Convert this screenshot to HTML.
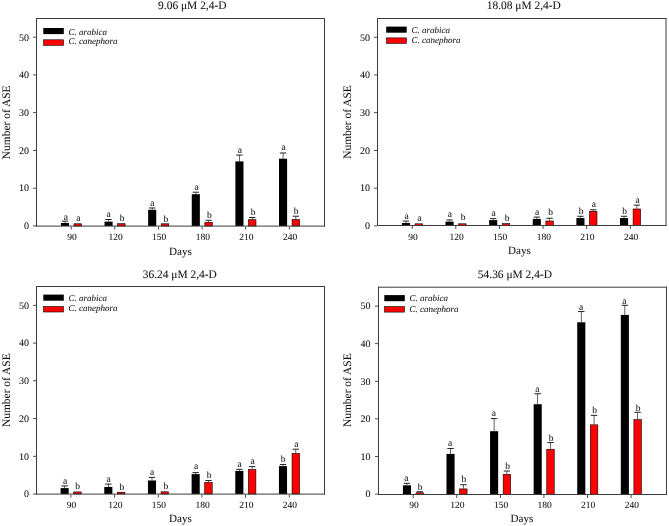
<!DOCTYPE html>
<html><head><meta charset="utf-8"><title>ASE</title>
<style>
html,body{margin:0;padding:0;background:#fff;}
body{width:669px;height:526px;overflow:hidden;}
svg{display:block;will-change:transform;}
text{font-family:"Liberation Serif",serif;fill:#111111;text-rendering:geometricPrecision;stroke:#111111;stroke-width:0.06px;}
.t{font-size:11.45px;}
.d{font-size:11.1px;}
.n{font-size:9.5px;}
.yl{font-size:10px;}
.l{font-size:9.5px;}
.i{font-size:9px;font-style:italic;}
</style></head>
<body>
<svg width="669" height="526" viewBox="0 0 669 526">
<rect width="669" height="526" fill="#fff"/>
<text class="t" x="192.3" y="9.3" text-anchor="middle">9.06 μM 2,4-D</text>
<rect x="33" y="225.5" width="3" height="0.8" fill="#222222"/>
<text class="n yl" x="29" y="229.2" text-anchor="end">0</text>
<rect x="33" y="187.76" width="3" height="0.8" fill="#222222"/>
<text class="n yl" x="29" y="191.46" text-anchor="end">10</text>
<rect x="33" y="150.02" width="3" height="0.8" fill="#222222"/>
<text class="n yl" x="29" y="153.72" text-anchor="end">20</text>
<rect x="33" y="112.28" width="3" height="0.8" fill="#222222"/>
<text class="n yl" x="29" y="115.98" text-anchor="end">30</text>
<rect x="33" y="74.54" width="3" height="0.8" fill="#222222"/>
<text class="n yl" x="29" y="78.24" text-anchor="end">40</text>
<rect x="33" y="36.8" width="3" height="0.8" fill="#222222"/>
<text class="n yl" x="29" y="40.5" text-anchor="end">50</text>
<rect x="70.8" y="226.6" width="0.8" height="3" fill="#222222"/>
<text class="n" x="71.9" y="239.8" text-anchor="middle">90</text>
<rect x="114.42" y="226.6" width="0.8" height="3" fill="#222222"/>
<text class="n" x="115.52" y="239.8" text-anchor="middle">120</text>
<rect x="158.04" y="226.6" width="0.8" height="3" fill="#222222"/>
<text class="n" x="159.14" y="239.8" text-anchor="middle">150</text>
<rect x="201.66" y="226.6" width="0.8" height="3" fill="#222222"/>
<text class="n" x="202.76" y="239.8" text-anchor="middle">180</text>
<rect x="245.28" y="226.6" width="0.8" height="3" fill="#222222"/>
<text class="n" x="246.38" y="239.8" text-anchor="middle">210</text>
<rect x="288.9" y="226.6" width="0.8" height="3" fill="#222222"/>
<text class="n" x="290" y="239.8" text-anchor="middle">240</text>
<text class="d" x="180.5" y="254.7" text-anchor="middle">Days</text>
<text class="t" transform="translate(10,122.3) rotate(-90)" text-anchor="middle">Number of ASE</text>
<rect x="60.9" y="222.99" width="8.1" height="3.01" fill="#000"/>
<rect x="64.6" y="221.18" width="0.7" height="1.81" fill="#222"/>
<rect x="61.75" y="220.68" width="6.4" height="1" fill="#222"/>
<text class="l" x="65.8" y="219.7" text-anchor="middle">a</text>
<rect x="74" y="223.78" width="7.5" height="2.22" fill="#ff0000" stroke="#000" stroke-width="0.6"/>
<text class="l" x="78.4" y="220.9" text-anchor="middle">a</text>
<rect x="104.52" y="221.6" width="8.1" height="4.4" fill="#000"/>
<rect x="108.22" y="219.48" width="0.7" height="2.11" fill="#222"/>
<rect x="105.37" y="218.98" width="6.4" height="1" fill="#222"/>
<text class="l" x="108.7" y="217.3" text-anchor="middle">a</text>
<rect x="117.62" y="223.71" width="7.5" height="2.29" fill="#ff0000" stroke="#000" stroke-width="0.6"/>
<text class="l" x="122" y="220.6" text-anchor="middle">b</text>
<rect x="148.14" y="209.79" width="8.1" height="16.21" fill="#000"/>
<rect x="151.84" y="207.97" width="0.7" height="1.81" fill="#222"/>
<rect x="148.99" y="207.47" width="6.4" height="1" fill="#222"/>
<text class="l" x="152.4" y="205.6" text-anchor="middle">a</text>
<rect x="161.24" y="223.78" width="7.5" height="2.22" fill="#ff0000" stroke="#000" stroke-width="0.6"/>
<text class="l" x="165.9" y="221.5" text-anchor="middle">b</text>
<rect x="191.76" y="194.2" width="8.1" height="31.8" fill="#000"/>
<rect x="195.46" y="192.2" width="0.7" height="2" fill="#222"/>
<rect x="192.61" y="191.7" width="6.4" height="1" fill="#222"/>
<text class="l" x="196.6" y="189.6" text-anchor="middle">a</text>
<rect x="204.86" y="222.31" width="7.5" height="3.69" fill="#ff0000" stroke="#000" stroke-width="0.6"/>
<rect x="208.26" y="220.31" width="0.7" height="1.7" fill="#222"/>
<rect x="205.41" y="219.81" width="6.4" height="1" fill="#222"/>
<text class="l" x="209.3" y="218.2" text-anchor="middle">b</text>
<rect x="235.38" y="161.4" width="8.1" height="64.6" fill="#000"/>
<rect x="239.08" y="155.1" width="0.7" height="6.3" fill="#222"/>
<rect x="236.23" y="154.6" width="6.4" height="1" fill="#222"/>
<text class="l" x="239.9" y="152.5" text-anchor="middle">a</text>
<rect x="248.48" y="219.71" width="7.5" height="6.29" fill="#ff0000" stroke="#000" stroke-width="0.6"/>
<rect x="251.88" y="217.52" width="0.7" height="1.89" fill="#222"/>
<rect x="249.03" y="217.02" width="6.4" height="1" fill="#222"/>
<text class="l" x="253.2" y="214.6" text-anchor="middle">b</text>
<rect x="279" y="158.69" width="8.1" height="67.31" fill="#000"/>
<rect x="282.7" y="152.99" width="0.7" height="5.7" fill="#222"/>
<rect x="279.85" y="152.49" width="6.4" height="1" fill="#222"/>
<text class="l" x="283.7" y="150.4" text-anchor="middle">a</text>
<rect x="292.1" y="219.41" width="7.5" height="6.59" fill="#ff0000" stroke="#000" stroke-width="0.6"/>
<rect x="295.5" y="216.2" width="0.7" height="2.91" fill="#222"/>
<rect x="292.65" y="215.7" width="6.4" height="1" fill="#222"/>
<text class="l" x="296.2" y="213.6" text-anchor="middle">b</text>
<rect x="43.3" y="28" width="20.5" height="6.1" fill="#000"/>
<rect x="43.6" y="39.8" width="19.9" height="5.5" fill="#ff0000" stroke="#000" stroke-width="0.6"/>
<text class="i" x="68.6" y="34.5">C. arabica</text>
<text class="i" x="68.6" y="44.4">C. canephora</text>
<rect x="36" y="18" width="289" height="1" fill="#3c3c3c"/>
<rect x="36" y="225.6" width="289" height="1" fill="#3c3c3c"/>
<rect x="36" y="18" width="1" height="208.6" fill="#3c3c3c"/>
<rect x="324" y="18" width="1" height="208.6" fill="#3c3c3c"/>
<text class="t" x="523.8" y="9.3" text-anchor="middle">18.08 μM 2,4-D</text>
<rect x="374" y="225.5" width="3" height="0.8" fill="#222222"/>
<text class="n yl" x="370" y="229.2" text-anchor="end">0</text>
<rect x="374" y="187.76" width="3" height="0.8" fill="#222222"/>
<text class="n yl" x="370" y="191.46" text-anchor="end">10</text>
<rect x="374" y="150.02" width="3" height="0.8" fill="#222222"/>
<text class="n yl" x="370" y="153.72" text-anchor="end">20</text>
<rect x="374" y="112.28" width="3" height="0.8" fill="#222222"/>
<text class="n yl" x="370" y="115.98" text-anchor="end">30</text>
<rect x="374" y="74.54" width="3" height="0.8" fill="#222222"/>
<text class="n yl" x="370" y="78.24" text-anchor="end">40</text>
<rect x="374" y="36.8" width="3" height="0.8" fill="#222222"/>
<text class="n yl" x="370" y="40.5" text-anchor="end">50</text>
<rect x="411.8" y="226" width="0.8" height="3" fill="#222222"/>
<text class="n" x="412.9" y="239.8" text-anchor="middle">90</text>
<rect x="455.42" y="226" width="0.8" height="3" fill="#222222"/>
<text class="n" x="456.52" y="239.8" text-anchor="middle">120</text>
<rect x="499.04" y="226" width="0.8" height="3" fill="#222222"/>
<text class="n" x="500.14" y="239.8" text-anchor="middle">150</text>
<rect x="542.66" y="226" width="0.8" height="3" fill="#222222"/>
<text class="n" x="543.76" y="239.8" text-anchor="middle">180</text>
<rect x="586.28" y="226" width="0.8" height="3" fill="#222222"/>
<text class="n" x="587.38" y="239.8" text-anchor="middle">210</text>
<rect x="629.9" y="226" width="0.8" height="3" fill="#222222"/>
<text class="n" x="631" y="239.8" text-anchor="middle">240</text>
<text class="d" x="519.4" y="253.6" text-anchor="middle">Days</text>
<text class="t" transform="translate(351.2,122) rotate(-90)" text-anchor="middle">Number of ASE</text>
<rect x="401.9" y="222.95" width="8.1" height="2.45" fill="#000"/>
<rect x="405.6" y="221.06" width="0.7" height="1.89" fill="#222"/>
<rect x="402.75" y="220.56" width="6.4" height="1" fill="#222"/>
<text class="l" x="406.6" y="218.5" text-anchor="middle">a</text>
<rect x="415" y="223.81" width="7.5" height="1.59" fill="#ff0000" stroke="#000" stroke-width="0.6"/>
<text class="l" x="419.6" y="220.9" text-anchor="middle">a</text>
<rect x="445.52" y="221.63" width="8.1" height="3.77" fill="#000"/>
<rect x="449.22" y="219.93" width="0.7" height="1.7" fill="#222"/>
<rect x="446.37" y="219.43" width="6.4" height="1" fill="#222"/>
<text class="l" x="449.9" y="217" text-anchor="middle">a</text>
<rect x="458.62" y="223.81" width="7.5" height="1.59" fill="#ff0000" stroke="#000" stroke-width="0.6"/>
<text class="l" x="463" y="220.3" text-anchor="middle">b</text>
<rect x="489.14" y="220.12" width="8.1" height="5.28" fill="#000"/>
<rect x="492.84" y="218.61" width="0.7" height="1.51" fill="#222"/>
<rect x="489.99" y="218.11" width="6.4" height="1" fill="#222"/>
<text class="l" x="493.7" y="215.7" text-anchor="middle">a</text>
<rect x="502.24" y="223.62" width="7.5" height="1.78" fill="#ff0000" stroke="#000" stroke-width="0.6"/>
<text class="l" x="507" y="220.5" text-anchor="middle">b</text>
<rect x="532.76" y="218.91" width="8.1" height="6.49" fill="#000"/>
<rect x="536.46" y="217.1" width="0.7" height="1.81" fill="#222"/>
<rect x="533.61" y="216.6" width="6.4" height="1" fill="#222"/>
<text class="l" x="537" y="214.5" text-anchor="middle">a</text>
<rect x="545.86" y="220.98" width="7.5" height="4.42" fill="#ff0000" stroke="#000" stroke-width="0.6"/>
<rect x="549.26" y="218.27" width="0.7" height="2.42" fill="#222"/>
<rect x="546.41" y="217.77" width="6.4" height="1" fill="#222"/>
<text class="l" x="550.6" y="214.7" text-anchor="middle">b</text>
<rect x="576.38" y="218.08" width="8.1" height="7.32" fill="#000"/>
<rect x="580.08" y="216.27" width="0.7" height="1.81" fill="#222"/>
<rect x="577.23" y="215.77" width="6.4" height="1" fill="#222"/>
<text class="l" x="581.1" y="213.9" text-anchor="middle">b</text>
<rect x="589.48" y="211.28" width="7.5" height="14.12" fill="#ff0000" stroke="#000" stroke-width="0.6"/>
<rect x="592.88" y="209.78" width="0.7" height="1.21" fill="#222"/>
<rect x="590.03" y="209.28" width="6.4" height="1" fill="#222"/>
<text class="l" x="593.9" y="207" text-anchor="middle">a</text>
<rect x="620" y="218.08" width="8.1" height="7.32" fill="#000"/>
<rect x="623.7" y="216.27" width="0.7" height="1.81" fill="#222"/>
<rect x="620.85" y="215.77" width="6.4" height="1" fill="#222"/>
<text class="l" x="624.5" y="213.9" text-anchor="middle">b</text>
<rect x="633.1" y="208.98" width="7.5" height="16.42" fill="#ff0000" stroke="#000" stroke-width="0.6"/>
<rect x="636.5" y="205.1" width="0.7" height="3.59" fill="#222"/>
<rect x="633.65" y="204.6" width="6.4" height="1" fill="#222"/>
<text class="l" x="637.5" y="202.6" text-anchor="middle">a</text>
<rect x="386.2" y="26.6" width="20.5" height="6.1" fill="#000"/>
<rect x="386.5" y="37.9" width="19.9" height="5.5" fill="#ff0000" stroke="#000" stroke-width="0.6"/>
<text class="i" x="411.5" y="32.7">C. arabica</text>
<text class="i" x="411.5" y="42.9">C. canephora</text>
<rect x="377" y="18" width="289.5" height="1" fill="#3c3c3c"/>
<rect x="377" y="225" width="289.5" height="1" fill="#3c3c3c"/>
<rect x="377" y="18" width="1" height="208" fill="#3c3c3c"/>
<rect x="665.5" y="18" width="1" height="208" fill="#3c3c3c"/>
<text class="t" x="179.8" y="278.4" text-anchor="middle">36.24 μM 2,4-D</text>
<rect x="33" y="493.6" width="3" height="0.8" fill="#222222"/>
<text class="n yl" x="29" y="497.3" text-anchor="end">0</text>
<rect x="33" y="455.86" width="3" height="0.8" fill="#222222"/>
<text class="n yl" x="29" y="459.56" text-anchor="end">10</text>
<rect x="33" y="418.12" width="3" height="0.8" fill="#222222"/>
<text class="n yl" x="29" y="421.82" text-anchor="end">20</text>
<rect x="33" y="380.38" width="3" height="0.8" fill="#222222"/>
<text class="n yl" x="29" y="384.08" text-anchor="end">30</text>
<rect x="33" y="342.64" width="3" height="0.8" fill="#222222"/>
<text class="n yl" x="29" y="346.34" text-anchor="end">40</text>
<rect x="33" y="304.9" width="3" height="0.8" fill="#222222"/>
<text class="n yl" x="29" y="308.6" text-anchor="end">50</text>
<rect x="70.5" y="494.6" width="0.8" height="3" fill="#222222"/>
<text class="n" x="71.6" y="507.8" text-anchor="middle">90</text>
<rect x="114.17" y="494.6" width="0.8" height="3" fill="#222222"/>
<text class="n" x="115.27" y="507.8" text-anchor="middle">120</text>
<rect x="157.84" y="494.6" width="0.8" height="3" fill="#222222"/>
<text class="n" x="158.94" y="507.8" text-anchor="middle">150</text>
<rect x="201.51" y="494.6" width="0.8" height="3" fill="#222222"/>
<text class="n" x="202.61" y="507.8" text-anchor="middle">180</text>
<rect x="245.18" y="494.6" width="0.8" height="3" fill="#222222"/>
<text class="n" x="246.28" y="507.8" text-anchor="middle">210</text>
<rect x="288.85" y="494.6" width="0.8" height="3" fill="#222222"/>
<text class="n" x="289.95" y="507.8" text-anchor="middle">240</text>
<text class="d" x="180.5" y="521.8" text-anchor="middle">Days</text>
<text class="t" transform="translate(10,390.2) rotate(-90)" text-anchor="middle">Number of ASE</text>
<rect x="60.6" y="488.11" width="8.1" height="5.89" fill="#000"/>
<rect x="64.3" y="485.92" width="0.7" height="2.19" fill="#222"/>
<rect x="61.45" y="485.42" width="6.4" height="1" fill="#222"/>
<text class="l" x="65" y="483.6" text-anchor="middle">a</text>
<rect x="73.7" y="491.92" width="7.5" height="2.08" fill="#ff0000" stroke="#000" stroke-width="0.6"/>
<text class="l" x="77.6" y="488.9" text-anchor="middle">b</text>
<rect x="104.27" y="486.9" width="8.1" height="7.1" fill="#000"/>
<rect x="107.97" y="484.11" width="0.7" height="2.79" fill="#222"/>
<rect x="105.12" y="483.61" width="6.4" height="1" fill="#222"/>
<text class="l" x="108.7" y="481.8" text-anchor="middle">a</text>
<rect x="117.37" y="492.22" width="7.5" height="1.78" fill="#ff0000" stroke="#000" stroke-width="0.6"/>
<text class="l" x="121.9" y="489.5" text-anchor="middle">b</text>
<rect x="147.94" y="480.49" width="8.1" height="13.51" fill="#000"/>
<rect x="151.64" y="477.39" width="0.7" height="3.09" fill="#222"/>
<rect x="148.79" y="476.89" width="6.4" height="1" fill="#222"/>
<text class="l" x="152.1" y="474.7" text-anchor="middle">a</text>
<rect x="161.04" y="491.81" width="7.5" height="2.19" fill="#ff0000" stroke="#000" stroke-width="0.6"/>
<text class="l" x="165.8" y="489.1" text-anchor="middle">b</text>
<rect x="191.61" y="474.11" width="8.1" height="19.89" fill="#000"/>
<rect x="195.31" y="472.6" width="0.7" height="1.51" fill="#222"/>
<rect x="192.46" y="472.1" width="6.4" height="1" fill="#222"/>
<text class="l" x="196.2" y="469.3" text-anchor="middle">a</text>
<rect x="204.71" y="482.41" width="7.5" height="11.59" fill="#ff0000" stroke="#000" stroke-width="0.6"/>
<rect x="208.11" y="480.53" width="0.7" height="1.59" fill="#222"/>
<rect x="205.26" y="480.03" width="6.4" height="1" fill="#222"/>
<text class="l" x="209.1" y="477.7" text-anchor="middle">b</text>
<rect x="235.28" y="470.9" width="8.1" height="23.1" fill="#000"/>
<rect x="238.98" y="469.32" width="0.7" height="1.59" fill="#222"/>
<rect x="236.13" y="468.82" width="6.4" height="1" fill="#222"/>
<text class="l" x="239.5" y="466.9" text-anchor="middle">a</text>
<rect x="248.38" y="469.62" width="7.5" height="24.38" fill="#ff0000" stroke="#000" stroke-width="0.6"/>
<rect x="251.78" y="466.6" width="0.7" height="2.72" fill="#222"/>
<rect x="248.93" y="466.1" width="6.4" height="1" fill="#222"/>
<text class="l" x="252.7" y="463.9" text-anchor="middle">a</text>
<rect x="278.95" y="466.11" width="8.1" height="27.89" fill="#000"/>
<rect x="282.65" y="464.53" width="0.7" height="1.59" fill="#222"/>
<rect x="279.8" y="464.03" width="6.4" height="1" fill="#222"/>
<text class="l" x="283" y="461.5" text-anchor="middle">b</text>
<rect x="292.05" y="453.39" width="7.5" height="40.61" fill="#ff0000" stroke="#000" stroke-width="0.6"/>
<rect x="295.45" y="449.2" width="0.7" height="3.89" fill="#222"/>
<rect x="292.6" y="448.7" width="6.4" height="1" fill="#222"/>
<text class="l" x="296.3" y="446.6" text-anchor="middle">a</text>
<rect x="43.3" y="294.6" width="20.5" height="6.1" fill="#000"/>
<rect x="43.6" y="306.5" width="19.9" height="5.5" fill="#ff0000" stroke="#000" stroke-width="0.6"/>
<text class="i" x="68.6" y="300.7">C. arabica</text>
<text class="i" x="68.6" y="311.2">C. canephora</text>
<rect x="36" y="286" width="289" height="1" fill="#3c3c3c"/>
<rect x="36" y="493.6" width="289" height="1" fill="#3c3c3c"/>
<rect x="36" y="286" width="1" height="208.6" fill="#3c3c3c"/>
<rect x="324" y="286" width="1" height="208.6" fill="#3c3c3c"/>
<text class="t" x="514.9" y="278.4" text-anchor="middle">54.36 μM 2,4-D</text>
<rect x="375" y="493.7" width="3" height="0.8" fill="#222222"/>
<text class="n yl" x="370.5" y="497.4" text-anchor="end">0</text>
<rect x="375" y="456.1" width="3" height="0.8" fill="#222222"/>
<text class="n yl" x="370.5" y="459.8" text-anchor="end">10</text>
<rect x="375" y="418.5" width="3" height="0.8" fill="#222222"/>
<text class="n yl" x="370.5" y="422.2" text-anchor="end">20</text>
<rect x="375" y="380.9" width="3" height="0.8" fill="#222222"/>
<text class="n yl" x="370.5" y="384.6" text-anchor="end">30</text>
<rect x="375" y="343.3" width="3" height="0.8" fill="#222222"/>
<text class="n yl" x="370.5" y="347" text-anchor="end">40</text>
<rect x="375" y="305.7" width="3" height="0.8" fill="#222222"/>
<text class="n yl" x="370.5" y="309.4" text-anchor="end">50</text>
<rect x="412.8" y="495" width="0.8" height="3" fill="#222222"/>
<text class="n" x="413.9" y="507.8" text-anchor="middle">90</text>
<rect x="456.38" y="495" width="0.8" height="3" fill="#222222"/>
<text class="n" x="457.48" y="507.8" text-anchor="middle">120</text>
<rect x="499.96" y="495" width="0.8" height="3" fill="#222222"/>
<text class="n" x="501.06" y="507.8" text-anchor="middle">150</text>
<rect x="543.54" y="495" width="0.8" height="3" fill="#222222"/>
<text class="n" x="544.64" y="507.8" text-anchor="middle">180</text>
<rect x="587.12" y="495" width="0.8" height="3" fill="#222222"/>
<text class="n" x="588.22" y="507.8" text-anchor="middle">210</text>
<rect x="630.7" y="495" width="0.8" height="3" fill="#222222"/>
<text class="n" x="631.8" y="507.8" text-anchor="middle">240</text>
<text class="d" x="521.9" y="521.8" text-anchor="middle">Days</text>
<text class="t" transform="translate(351.2,390.2) rotate(-90)" text-anchor="middle">Number of ASE</text>
<rect x="402.9" y="485.3" width="8.1" height="9.1" fill="#000"/>
<rect x="406.6" y="483.31" width="0.7" height="1.99" fill="#222"/>
<rect x="403.75" y="482.81" width="6.4" height="1" fill="#222"/>
<text class="l" x="406.3" y="481.2" text-anchor="middle">a</text>
<rect x="416" y="492.78" width="7.5" height="1.62" fill="#ff0000" stroke="#000" stroke-width="0.6"/>
<rect x="419.4" y="491.69" width="0.7" height="0.79" fill="#222"/>
<rect x="416.55" y="491.19" width="6.4" height="1" fill="#222"/>
<text class="l" x="420" y="489.5" text-anchor="middle">b</text>
<rect x="446.48" y="453.91" width="8.1" height="40.49" fill="#000"/>
<rect x="450.18" y="448.49" width="0.7" height="5.41" fill="#222"/>
<rect x="447.33" y="447.99" width="6.4" height="1" fill="#222"/>
<text class="l" x="450.1" y="445.8" text-anchor="middle">a</text>
<rect x="459.58" y="488.91" width="7.5" height="5.49" fill="#ff0000" stroke="#000" stroke-width="0.6"/>
<rect x="462.98" y="484.7" width="0.7" height="3.91" fill="#222"/>
<rect x="460.13" y="484.2" width="6.4" height="1" fill="#222"/>
<text class="l" x="463.8" y="482.4" text-anchor="middle">b</text>
<rect x="490.06" y="431.2" width="8.1" height="63.2" fill="#000"/>
<rect x="493.76" y="418.6" width="0.7" height="12.6" fill="#222"/>
<rect x="490.91" y="418.1" width="6.4" height="1" fill="#222"/>
<text class="l" x="493.9" y="416" text-anchor="middle">a</text>
<rect x="503.16" y="474.4" width="7.5" height="20" fill="#ff0000" stroke="#000" stroke-width="0.6"/>
<rect x="506.56" y="471.01" width="0.7" height="3.08" fill="#222"/>
<rect x="503.71" y="470.51" width="6.4" height="1" fill="#222"/>
<text class="l" x="507.6" y="469.2" text-anchor="middle">b</text>
<rect x="533.64" y="404.24" width="8.1" height="90.16" fill="#000"/>
<rect x="537.34" y="393.75" width="0.7" height="10.49" fill="#222"/>
<rect x="534.49" y="393.25" width="6.4" height="1" fill="#222"/>
<text class="l" x="537.3" y="391.7" text-anchor="middle">a</text>
<rect x="546.74" y="449.28" width="7.5" height="45.12" fill="#ff0000" stroke="#000" stroke-width="0.6"/>
<rect x="550.14" y="442.59" width="0.7" height="6.39" fill="#222"/>
<rect x="547.29" y="442.09" width="6.4" height="1" fill="#222"/>
<text class="l" x="551.1" y="440.8" text-anchor="middle">b</text>
<rect x="577.22" y="322.27" width="8.1" height="172.13" fill="#000"/>
<rect x="580.92" y="311.55" width="0.7" height="10.72" fill="#222"/>
<rect x="578.07" y="311.05" width="6.4" height="1" fill="#222"/>
<text class="l" x="581.1" y="309.8" text-anchor="middle">a</text>
<rect x="590.32" y="424.84" width="7.5" height="69.56" fill="#ff0000" stroke="#000" stroke-width="0.6"/>
<rect x="593.72" y="415.33" width="0.7" height="9.21" fill="#222"/>
<rect x="590.87" y="414.83" width="6.4" height="1" fill="#222"/>
<text class="l" x="594.7" y="413.4" text-anchor="middle">b</text>
<rect x="620.8" y="314.9" width="8.1" height="179.5" fill="#000"/>
<rect x="624.5" y="305.31" width="0.7" height="9.59" fill="#222"/>
<rect x="621.65" y="304.81" width="6.4" height="1" fill="#222"/>
<text class="l" x="624.4" y="303.8" text-anchor="middle">a</text>
<rect x="633.9" y="419.69" width="7.5" height="74.71" fill="#ff0000" stroke="#000" stroke-width="0.6"/>
<rect x="637.3" y="412.28" width="0.7" height="7.11" fill="#222"/>
<rect x="634.45" y="411.78" width="6.4" height="1" fill="#222"/>
<text class="l" x="638" y="411.4" text-anchor="middle">b</text>
<rect x="384.3" y="295.1" width="20.5" height="6.1" fill="#000"/>
<rect x="384.6" y="306.6" width="19.9" height="5.5" fill="#ff0000" stroke="#000" stroke-width="0.6"/>
<text class="i" x="409.5" y="301.3">C. arabica</text>
<text class="i" x="409.5" y="311.8">C. canephora</text>
<rect x="378" y="286.7" width="289" height="1" fill="#3c3c3c"/>
<rect x="378" y="494" width="289" height="1" fill="#3c3c3c"/>
<rect x="378" y="286.7" width="1" height="208.3" fill="#3c3c3c"/>
<rect x="666" y="286.7" width="1" height="208.3" fill="#3c3c3c"/>
</svg>
</body></html>
